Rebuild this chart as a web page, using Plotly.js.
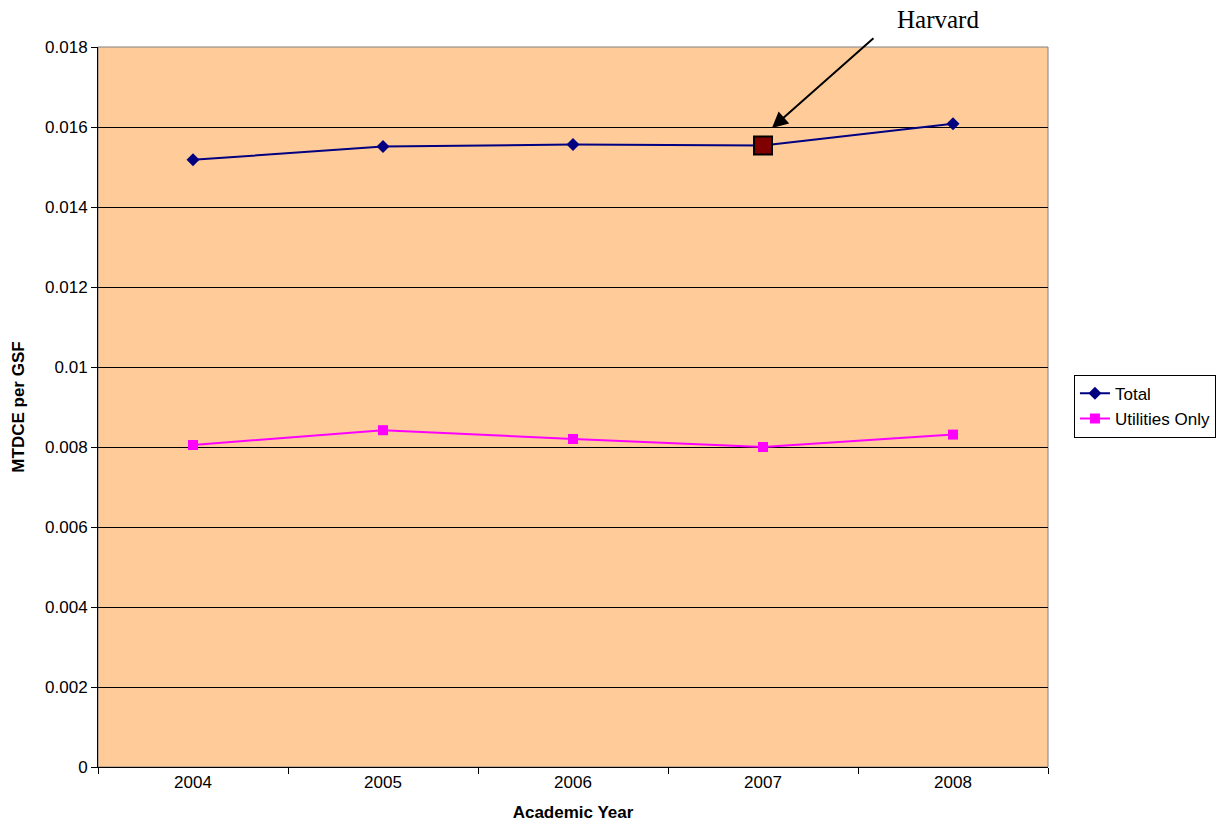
<!DOCTYPE html>
<html>
<head>
<meta charset="utf-8">
<script src="https://cdn.plot.ly/plotly-3.0.1.min.js"></script>
<style>
  html, body { margin: 0; padding: 0; background: #ffffff; }
  #chart { width: 1219px; height: 833px; }
</style>
</head>
<body>
<div id="chart"></div>
<script>
// Academic years on the category axis
const years = ['2004', '2005', '2006', '2007', '2008'];

// MTDCE per gross square foot
const totalValues = [0.01518, 0.01551, 0.01556, 0.01554, 0.01608];
const utilitiesValues = [0.00805, 0.00842, 0.00820, 0.00800, 0.00831];

// Highlighted year for the Harvard callout
const highlightYear = '2007';
const highlightValue = totalValues[years.indexOf(highlightYear)];

// Y-axis ticks
const yTickVals = [0, 0.002, 0.004, 0.006, 0.008, 0.01, 0.012, 0.014, 0.016, 0.018];
const yTickText = ['0', '0.002', '0.004', '0.006', '0.008', '0.01', '0.012', '0.014', '0.016', '0.018'];

const sans = 'Liberation Sans, Arial, sans-serif';

const traces = [
  {
    x: years, y: totalValues, name: 'Total', type: 'scatter', mode: 'lines+markers',
    line: { color: '#000080', width: 2 },
    marker: { symbol: 'diamond', size: 10, color: '#000080' }
  },
  {
    x: years, y: utilitiesValues, name: 'Utilities Only', type: 'scatter', mode: 'lines+markers',
    line: { color: '#FF00FF', width: 2 },
    marker: { symbol: 'square', size: 10, color: '#FF00FF' }
  },
  {
    x: [highlightYear], y: [highlightValue], type: 'scatter', mode: 'markers',
    showlegend: false, hoverinfo: 'skip',
    marker: { symbol: 'square', size: 18, color: '#800000', line: { color: '#000000', width: 2 } }
  }
];

const layout = {
  width: 1219, height: 833,
  margin: { l: 98, r: 171, t: 47, b: 66, autoexpand: false },
  paper_bgcolor: '#ffffff',
  plot_bgcolor: '#FFCC99',
  font: { family: sans, size: 17, color: '#000000' },
  showlegend: true,
  legend: {
    x: 1.1768, y: 0.501, xanchor: 'right', yanchor: 'middle',
    bgcolor: '#ffffff', bordercolor: '#000000', borderwidth: 1,
    font: { family: sans, size: 17, color: '#000000' },
    tracegroupgap: 0, itemwidth: 30
  },
  xaxis: {
    type: 'category', range: [-0.5, 4.5],
    showgrid: false, zeroline: false,
    showline: true, linecolor: '#000000', linewidth: 1,
    ticks: 'outside', tickson: 'boundaries', ticklen: 6, tickcolor: '#000000',
    tickfont: { family: sans, size: 17 },
    title: { text: 'Academic Year', font: { family: sans, size: 17, weight: 'bold' }, standoff: 14 }
  },
  yaxis: {
    range: [0, 0.018], tickvals: yTickVals, ticktext: yTickText,
    showgrid: true, gridcolor: '#000000', gridwidth: 1,
    zeroline: false,
    showline: true, linecolor: '#000000', linewidth: 1,
    ticks: 'outside', ticklen: 6, tickcolor: '#000000',
    tickfont: { family: sans, size: 17 },
    title: { text: 'MTDCE per GSF', font: { family: sans, size: 17, weight: 'bold' }, standoff: 16 }
  },
  shapes: [
    {
      type: 'rect', xref: 'paper', yref: 'paper', x0: 0, x1: 1, y0: 0, y1: 1,
      line: { color: '#808080', width: 1 }, layer: 'below'
    }
  ],
  annotations: [
    {
      x: 3.047, y: 0.015975, xref: 'x', yref: 'y',
      ax: 103, ay: -91, axref: 'pixel', ayref: 'pixel',
      showarrow: true, arrowhead: 2, arrowsize: 1.6, arrowwidth: 2, arrowcolor: '#000000',
      text: ''
    },
    {
      x: 0.884, y: 1.0375, xref: 'paper', yref: 'paper',
      xanchor: 'center', yanchor: 'middle', showarrow: false,
      text: 'Harvard',
      font: { family: 'Liberation Serif, Times New Roman, serif', size: 25, color: '#000000' }
    }
  ]
};

Plotly.newPlot('chart', traces, layout, { displayModeBar: false, staticPlot: true });
</script>
</body>
</html>
